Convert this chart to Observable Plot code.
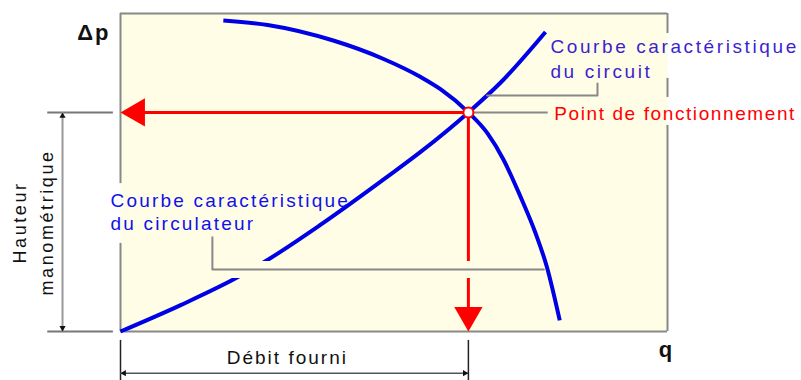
<!DOCTYPE html>
<html><head><meta charset="utf-8">
<script src="https://cdn.jsdelivr.net/npm/d3@7"></script>
<script src="https://cdn.jsdelivr.net/npm/@observablehq/plot@0.6"></script>
<style>body{margin:0;background:#fff}</style>
</head><body><div id="chart"></div>
<script>
// Values are in % of the q (x) and Δp (y) ranges of the framed area.
// Circuit characteristic (rising curve)
const circuitQ  = [0, 11.0, 21.9, 26.5, 36.6, 48.8, 54.8, 63.6, 69.5, 77.7];
const circuitDp = [0, 8.3, 17.5, 22.1, 33.6, 48.7, 56.4, 68.9, 78.3, 94.2];
// Circulator (pump) characteristic (falling curve)
const pumpQ  = [18.8, 26.9, 38.9, 48.1, 54.8, 58.5, 63.6, 67.1, 70.0, 73.1, 75.9, 77.9, 80.3];
const pumpDp = [97.8, 96.4, 91.5, 85.7, 80.1, 76.2, 68.9, 62.3, 54.1, 42.5, 30.8, 20.6, 3.5];
// Operating point
const opQ = 63.6, opDp = 68.9;

// Annotation geometry (data units)
const leftBorderGaps  = [{y1: 0, y2: 27.7}, {y1: 46.5, y2: 100}];
const rightBorderGaps = [{y1: 0, y2: 64.8}, {y1: 73.6, y2: 79.6}, {y1: 93.7, y2: 100}];
const circulatorLeader = [{q: 16.8, dp: 29.6}, {q: 16.8, dp: 19.5}, {q: 77.4, dp: 19.5}];
const circuitLeader = [{q: 87.2, dp: 78.0}, {q: 87.2, dp: 74.2}, {q: 67.0, dp: 74.2}];
const dimX = -10.6, dimY = -13.1;

// Texts
const labelDp = "Δp", labelQ = "q";
const labelCircuit = "Courbe caractéristique\ndu circuit";
const labelPump = "Courbe caractéristique\ndu circulateur";
const labelPoint = "Point de fonctionnement";
const labelFlow = "Débit fourni";
const labelHead = "Hauteur\nmanométrique";

const circuit = circuitQ.map((q, i) => ({q, dp: circuitDp[i]}));
const pump = pumpQ.map((q, i) => ({q, dp: pumpDp[i]}));

const yellow = "#fffde5", blue = "#0000e6", red = "#ff0000", gray = "#888";

const chart = Plot.plot({
  width: 801, height: 380,
  marginLeft: 120, marginRight: 134, marginTop: 13, marginBottom: 49,
  x: {domain: [0, 100], axis: null},
  y: {domain: [0, 100], axis: null},
  style: "font-family: 'Liberation Sans', Arial, sans-serif; letter-spacing: 2px; background: #fff; overflow: visible;",
  marks: [
    Plot.frame({fill: yellow, stroke: "none"}),
    // border
    Plot.ruleY([0, 100], {x1: 0, x2: 100, stroke: gray, strokeWidth: 2}),
    Plot.ruleX(leftBorderGaps, {x: 0, y1: "y1", y2: "y2", stroke: gray, strokeWidth: 2}),
    Plot.ruleX(rightBorderGaps, {x: 100, y1: "y1", y2: "y2", stroke: gray, strokeWidth: 2}),
    // curves
    Plot.line(circuit, {x: "q", y: "dp", stroke: blue, strokeWidth: 4, curve: "monotone-x", strokeLinecap: "butt"}),
    Plot.line(pump, {x: "q", y: "dp", stroke: blue, strokeWidth: 4, curve: "monotone-x", strokeLinecap: "butt"}),
    // red projection lines
    Plot.ruleY([opDp], {x1: 2, x2: opQ, stroke: red, strokeWidth: 3}),
    Plot.ruleX([opQ], {y1: 3, y2: opDp, stroke: red, strokeWidth: 3}),
    // halo under circulator leader
    Plot.ruleY([19.5], {x1: 17.5, x2: 76.3, stroke: yellow, strokeWidth: 17}),
    // leaders
    Plot.line(circulatorLeader, {x: "q", y: "dp", stroke: gray, strokeWidth: 2, curve: "linear"}),
    Plot.line(circuitLeader, {x: "q", y: "dp", stroke: gray, strokeWidth: 2, curve: "linear"}),
    Plot.ruleY([opDp], {x1: opQ + 1, x2: 78.2, stroke: gray, strokeWidth: 2}),
    // red arrowheads
    Plot.dot([{q: 0, dp: opDp}], {x: "q", y: "dp", symbol: "triangle", r: 10.5, fill: red, stroke: "none", rotate: -90, dx: 16.3}),
    Plot.dot([{q: opQ, dp: 0}], {x: "q", y: "dp", symbol: "triangle", r: 10.5, fill: red, stroke: "none", rotate: 180, dy: -16.3}),
    // operating point
    Plot.dot([{q: opQ, dp: opDp}], {x: "q", y: "dp", r: 5, fill: "#fff", stroke: red, strokeWidth: 2}),
    // left dimension (hauteur manométrique)
    Plot.ruleY([opDp, 0], {x1: -13.3, x2: -1.3, stroke: "#777", strokeWidth: 2}),
    Plot.ruleX([dimX], {y1: 0, y2: opDp, stroke: "#999", strokeWidth: 2}),
    Plot.dot([{q: dimX, dp: opDp}], {x: "q", y: "dp", symbol: "triangle", r: 2.3, fill: "#111", stroke: "none", rotate: 0, dy: 3.6}),
    Plot.dot([{q: dimX, dp: 0}], {x: "q", y: "dp", symbol: "triangle", r: 2.3, fill: "#111", stroke: "none", rotate: 180, dy: -3.6}),
    // bottom dimension (débit fourni)
    Plot.ruleX([0, opQ], {y1: -2.8, y2: -15.6, stroke: "#222", strokeWidth: 1.5}),
    Plot.ruleY([dimY], {x1: 0, x2: opQ, stroke: "#555", strokeWidth: 1.5}),
    Plot.dot([{q: 0, dp: dimY}], {x: "q", y: "dp", symbol: "triangle", r: 2.3, fill: "#111", stroke: "none", rotate: -90, dx: 3.6}),
    Plot.dot([{q: opQ, dp: dimY}], {x: "q", y: "dp", symbol: "triangle", r: 2.3, fill: "#111", stroke: "none", rotate: 90, dx: -3.6}),
    // texts
    Plot.text([labelDp], {x: -1.83, y: 91.8, text: d => d, textAnchor: "end", lineAnchor: "bottom", fontSize: 22, fontWeight: "bold", fill: "#111"}),
    Plot.text([labelQ], {x: 98.4, y: -7.9, text: d => d, textAnchor: "start", lineAnchor: "bottom", fontSize: 22, fontWeight: "bold", fill: "#111"}),
    Plot.text([labelCircuit], {x: 78.6, y: 79.6, text: d => d, textAnchor: "start", lineAnchor: "bottom", lineHeight: 1.32, fontSize: 19, fill: "#3b1fd1"}),
    Plot.text([labelPump], {x: -1.83, y: 31.8, text: d => d, textAnchor: "start", lineAnchor: "bottom", lineHeight: 1.22, fontSize: 19, fill: "#1010ee"}),
    Plot.text([labelPoint], {x: 79.3, y: 66.4, text: d => d, textAnchor: "start", lineAnchor: "bottom", fontSize: 19, fill: red}),
    Plot.text([labelFlow], {x: 30.5, y: -10.1, text: d => d, textAnchor: "middle", lineAnchor: "bottom", fontSize: 19, fill: "#111"}),
    Plot.text([labelHead], {x: -12.4, y: 34.3, text: d => d, textAnchor: "middle", lineAnchor: "bottom", lineHeight: 1.5, fontSize: 18, rotate: -90, fill: "#111"})
  ]
});
// per-label letter spacing
const spacing = new Map([[labelCircuit, "2.6px"], [labelPump, "2.2px"], [labelPoint, "1.6px"], [labelHead, "2.6px"]]);
d3.select(chart).selectAll("text").each(function() {
  const t = Array.from(this.querySelectorAll("tspan")).map(n => n.textContent).join("\n") || this.textContent;
  if (spacing.has(t)) this.setAttribute("letter-spacing", spacing.get(t));
});
document.getElementById("chart").appendChild(chart);
</script>
</body></html>
